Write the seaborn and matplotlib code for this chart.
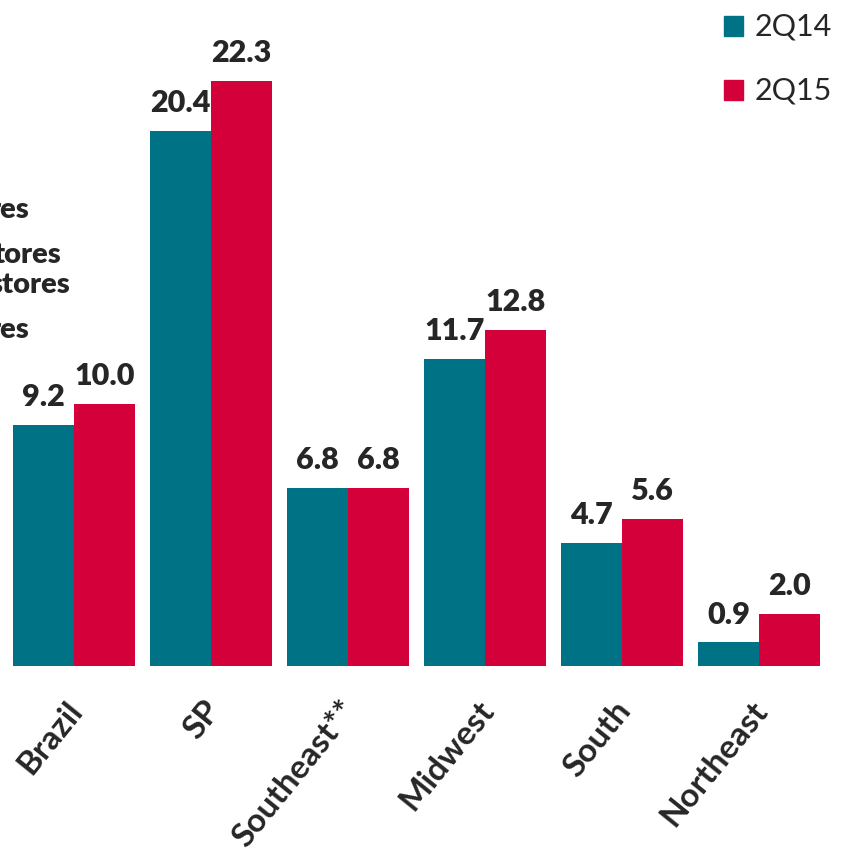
import matplotlib
matplotlib.use("Agg")
import matplotlib.pyplot as plt
import matplotlib.transforms as mtransforms
import seaborn as sns
import pandas as pd

regions = ["Brazil", "SP", "Southeast**", "Midwest", "South", "Northeast"]
series_names = ["2Q14", "2Q15"]
values_2q14 = [9.2, 20.4, 6.8, 11.7, 4.7, 0.9]
values_2q15 = [10.0, 22.3, 6.8, 12.8, 5.6, 2.0]
side_fragments = ["res", "tores", "stores", "res"]

colors = {"2Q14": "#007285", "2Q15": "#D4003A"}

df = pd.DataFrame({
    "region": regions * 2,
    "series": [series_names[0]] * len(regions) + [series_names[1]] * len(regions),
    "value": values_2q14 + values_2q15,
})

sns.set_theme(style="white")
plt.rcParams["font.family"] = ["Lato", "DejaVu Sans"]

fig = plt.figure(figsize=(8.46, 8.58), dpi=100)
ax = fig.add_axes([0, 192 / 858, 1, 666 / 858])

sns.barplot(data=df, x="region", y="value", hue="series", order=regions,
            hue_order=series_names, palette=colors, width=0.89,
            saturation=1, linewidth=0, ax=ax, legend=False)

ax.set_xlim(-74 / 137, (846 - 74) / 137)
ax.set_ylim(0, 666 / 26.23)
for s in ax.spines.values():
    s.set_visible(False)
ax.set_yticks([])
ax.set_xlabel("")
ax.set_ylabel("")
ax.tick_params(axis="x", length=0, pad=0)
ax.set_xticks(range(len(regions)))
ax.set_xticklabels(regions, rotation=51, ha="right", va="center",
                   rotation_mode="anchor", fontsize=24, fontweight="bold")
offset = mtransforms.ScaledTranslation(3 / 100, -39 / 100, fig.dpi_scale_trans)
for lbl in ax.get_xticklabels():
    lbl.set_transform(lbl.get_transform() + offset)

for cont in ax.containers:
    ax.bar_label(cont, fmt="%.1f", padding=10, fontsize=22, fontweight="heavy")

# cropped side text fragments (cut off at the left edge as in the reference)
frag_y = [210, 255, 285, 330]
frag_x = [29, 61, 70, 29]
for t, xx, yy in zip(side_fragments, frag_x, frag_y):
    fig.text(xx / 846, 1 - yy / 858, t, ha="right", va="center",
             fontsize=21, fontweight="heavy")

# legend
leg_y = [26, 90]
for name, yy in zip(series_names, leg_y):
    fig.patches.append(plt.Rectangle((724 / 846, 1 - (yy + 10) / 858), 19 / 846, 20 / 858,
                                     transform=fig.transFigure, color=colors[name]))
    fig.text(755 / 846, 1 - yy / 858, name, ha="left", va="center", fontsize=22)

fig.savefig("out.png", dpi=100)
